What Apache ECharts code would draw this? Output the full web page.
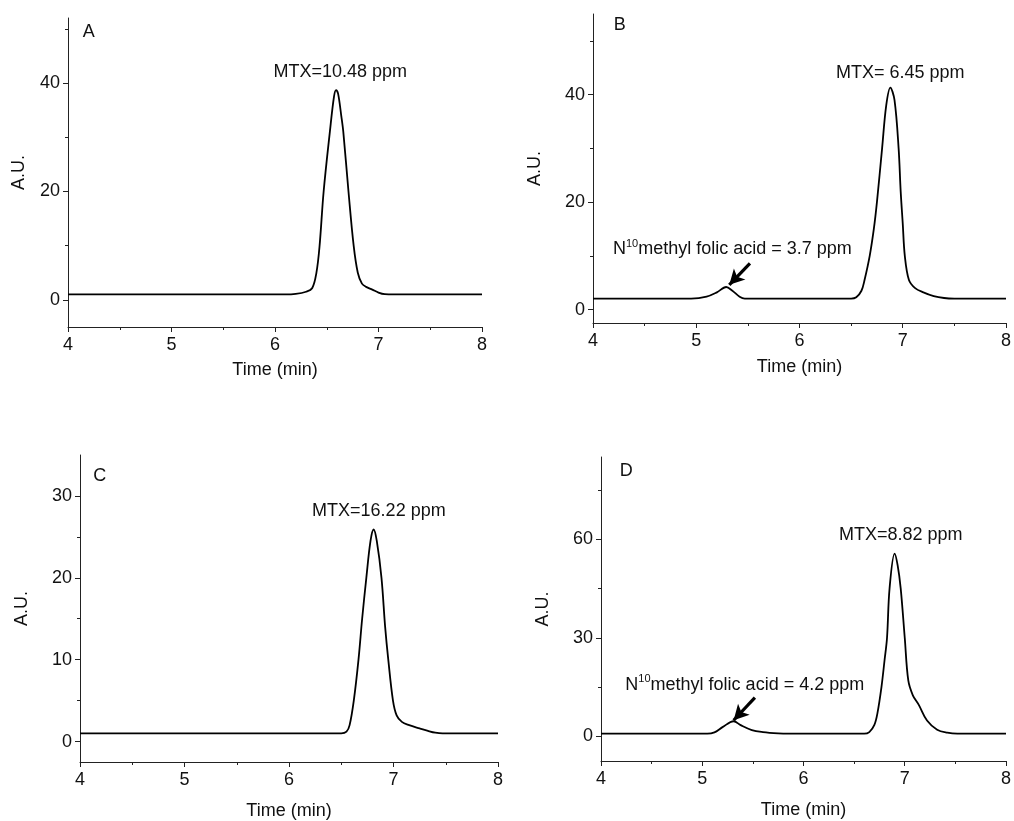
<!DOCTYPE html>
<html>
<head>
<meta charset="utf-8">
<script src="https://cdn.jsdelivr.net/npm/echarts@6/dist/echarts.min.js"></script>
<style>
html,body{margin:0;padding:0;background:#fff;}
#c{width:1014px;height:821px;}
</style>
</head>
<body>
<div id="c"></div>
<script>
// ---------- data ----------
const timeA = [4, 6.1, 6.2, 6.3, 6.36, 6.40, 6.43, 6.47, 6.53, 6.57, 6.59, 6.61, 6.64, 6.66, 6.71, 6.76, 6.80, 6.84, 6.88, 6.94, 7.0, 7.06, 7.15, 8];
const auA   = [1, 1, 1.1, 1.5, 2.2, 5, 9.8, 20, 31, 37.5, 38.7, 38, 34, 31, 20, 10, 5, 3, 2.4, 1.9, 1.35, 1.05, 1, 1];

const timeB = [4, 4.95, 5.1, 5.2, 5.29, 5.35, 5.42, 5.47, 6.5, 6.55, 6.6, 6.63, 6.68, 6.72, 6.75, 6.80, 6.84, 6.88, 6.92, 6.96, 6.98, 7.0, 7.02, 7.06, 7.12, 7.2, 7.3, 7.4, 7.5, 8];
const auB   = [2.05, 2.05, 2.4, 3.2, 4.2, 3.5, 2.4, 2.05, 2.05, 2.3, 3.5, 5.5, 10, 15, 20, 30, 38, 41.3, 39, 30, 22, 16, 10, 5.5, 4, 3.2, 2.5, 2.15, 2.05, 2.05];

const timeC = [4, 6.5, 6.55, 6.58, 6.62, 6.665, 6.70, 6.74, 6.78, 6.81, 6.84, 6.885, 6.92, 6.95, 6.995, 7.03, 7.08, 7.15, 7.25, 7.33, 7.4, 7.47, 8];
const auC   = [1, 1, 1.2, 2, 5, 10, 15, 20, 24.5, 25.9, 24.5, 20, 14, 10, 5, 3.2, 2.4, 2, 1.6, 1.3, 1.08, 1, 1];

const timeD = [4, 5.05, 5.12, 5.2, 5.31, 5.38, 5.49, 5.6, 5.75, 5.85, 6.6, 6.65, 6.7, 6.73, 6.77, 6.80, 6.825, 6.85, 6.9, 6.93, 6.96, 7.0, 7.035, 7.08, 7.14, 7.22, 7.32, 7.42, 7.52, 8];
const auD   = [0.8, 0.8, 1.2, 2.8, 4.6, 3.4, 1.9, 1.3, 0.9, 0.8, 0.8, 1.3, 3.5, 7, 15, 23, 30, 45, 55.6, 52, 45, 30, 17, 12.5, 9.5, 4.8, 2, 1.1, 0.8, 0.8];

const xTicks = [4, 5, 6, 7, 8];
const yLabelsA = [0, 20, 40], yMinorA = [10, 30, 50];
const yLabelsB = [0, 20, 40], yMinorB = [10, 30, 50];
const yLabelsC = [0, 10, 20, 30], yMinorC = [5, 15, 25];
const yLabelsD = [0, 30, 60], yMinorD = [15, 45, 75];
const yRangeA = [-5, 52], yRangeB = [-2.5, 55], yRangeC = [-2.5, 35], yRangeD = [-7.5, 85];

const panelLetters = ['A', 'B', 'C', 'D'];
const letterPos = [[4.2, 49.5], [4.26, 53], [4.19, 32.4], [4.25, 80.8]];
const mtxLabels = ['MTX=10.48 ppm', 'MTX= 6.45 ppm', 'MTX=16.22 ppm', 'MTX=8.82 ppm'];
const mtxPos = [[6.63, 42.1], [6.975, 44.0], [6.86, 28.2], [6.96, 61.2]];
const n10Text = { 1: 'methyl folic acid = 3.7 ppm', 3: 'methyl folic acid = 4.2 ppm' };
const n10Pos = { 1: [5.35, 11.2], 3: [5.42, 15.7] };
const arrows = { 1: [[5.52, 8.6], [5.32, 4.6]], 3: [[5.52, 11.8], [5.31, 4.9]] };

// ---------- chart ----------
const FONT = 'Liberation Sans, Arial, sans-serif';
const FS = 18;
const grids = [
  { left: 68, top: 18, width: 414, height: 309 },
  { left: 593, top: 14, width: 413, height: 309 },
  { left: 80, top: 455, width: 418, height: 308 },
  { left: 601, top: 457, width: 409, height: 304 }
];
const times = [timeA, timeB, timeC, timeD];
const aus = [auA, auB, auC, auD];
const yLabels = [yLabelsA, yLabelsB, yLabelsC, yLabelsD];
const yMinor = [yMinorA, yMinorB, yMinorC, yMinorD];
const yRanges = [yRangeA, yRangeB, yRangeC, yRangeD];
const yNameGap = [40, 49, 49, 49];
const xNameGap = [34, 35, 40, 40];

const xAxis = [], yAxis = [], series = [];
grids.forEach((g, i) => {
  xAxis.push({
    type: 'value', gridIndex: i, min: 4, max: 8, interval: 1,
    name: 'Time (min)', nameLocation: 'middle', nameGap: xNameGap[i],
    nameTextStyle: { fontFamily: FONT, fontSize: FS, color: '#111' },
    axisLine: { onZero: false, lineStyle: { color: '#222', width: 1 } },
    axisTick: { show: true, inside: false, length: 5, lineStyle: { color: '#222' } },
    minorTick: { show: true, splitNumber: 2, length: 3, lineStyle: { color: '#222' } },
    axisLabel: { fontFamily: FONT, fontSize: FS, color: '#111', margin: 9,
      customValues: xTicks },
    splitLine: { show: false }, minorSplitLine: { show: false }
  });
  yAxis.push({
    type: 'value', gridIndex: i, min: yRanges[i][0], max: yRanges[i][1], position: 'left',
    name: 'A.U.', nameLocation: 'middle', nameGap: yNameGap[i], nameRotate: 90,
    nameTextStyle: { fontFamily: FONT, fontSize: FS, color: '#111' },
    axisLine: { show: true, onZero: false, lineStyle: { color: '#222', width: 1 } },
    axisTick: { show: true, length: 5, customValues: yLabels[i], lineStyle: { color: '#222' } },
    axisLabel: { fontFamily: FONT, fontSize: FS, color: '#111', margin: 8, customValues: yLabels[i] },
    splitLine: { show: false }
  });
  yAxis.push({
    type: 'value', gridIndex: i, min: yRanges[i][0], max: yRanges[i][1], position: 'left', offset: 0,
    axisLine: { show: false, onZero: false },
    axisTick: { show: true, length: 3, customValues: yMinor[i], lineStyle: { color: '#222' } },
    axisLabel: { show: false, customValues: yMinor[i] },
    splitLine: { show: false }
  });
  const s = {
    type: 'line', xAxisIndex: i, yAxisIndex: 2 * i,
    data: times[i].map((t, k) => [t, aus[i][k]]),
    showSymbol: false, smooth: 0.35,
    lineStyle: { color: '#000', width: 1.8 }, silent: true,
    markPoint: {
      symbol: 'circle', symbolSize: 0, silent: true, animation: false,
      data: [
        { coord: letterPos[i], label: { show: true, position: 'inside', formatter: panelLetters[i],
          fontFamily: FONT, fontSize: FS, color: '#111' } },
        { coord: mtxPos[i], label: { show: true, position: 'inside', formatter: mtxLabels[i],
          fontFamily: FONT, fontSize: FS, color: '#111' } }
      ]
    }
  };
  if (n10Text[i]) {
    s.markPoint.data.push({
      coord: n10Pos[i],
      label: {
        show: true, position: 'inside',
        formatter: '{b|N}{s|10}{b|' + n10Text[i] + '}',
        rich: {
          b: { fontFamily: FONT, fontSize: FS, color: '#111', lineHeight: 22 },
          s: { fontFamily: FONT, fontSize: 11, color: '#111', verticalAlign: 'top', lineHeight: 12 }
        }
      }
    });
    s.markLine = {
      silent: true, animation: false, symbol: ['none', 'arrow'], symbolSize: [12, 15],
      lineStyle: { color: '#000', width: 3.2, type: 'solid' },
      label: { show: false },
      data: [[{ coord: arrows[i][0] }, { coord: arrows[i][1] }]]
    };
  }
  series.push(s);
});

const chart = echarts.init(document.getElementById('c'), null, { renderer: 'canvas' });
chart.setOption({
  backgroundColor: '#fff',
  animation: false,
  grid: grids,
  xAxis, yAxis, series
});
</script>
</body>
</html>
